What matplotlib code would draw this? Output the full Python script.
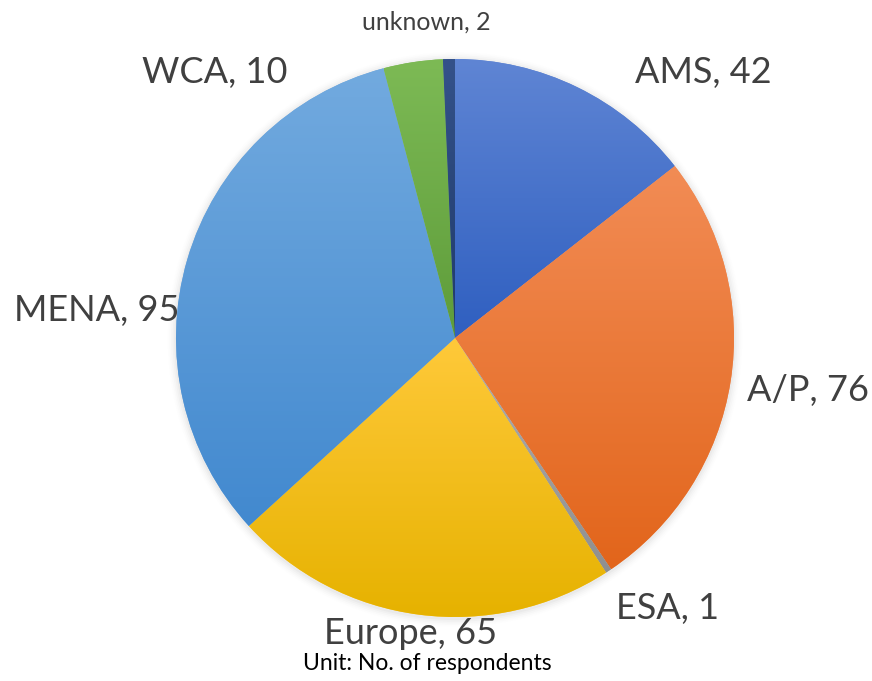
"""Respondents by region pie chart."""

import matplotlib.pyplot as plt
import numpy as np
from matplotlib.colors import LinearSegmentedColormap

plt.rcParams["font.family"] = ["Lato", "DejaVu Sans"]

regions = ["AMS", "A/P", "ESA", "Europe", "MENA", "WCA", "unknown"]
counts = [42, 76, 1, 65, 95, 10, 2]
# (top colour, bottom colour) for the vertical gradient of each wedge
top_colors = ["#5f85d4", "#f28c55", "#b0b0b0", "#ffc93a", "#72aadf", "#7dba55", "#34528a"]
bottom_colors = ["#2f5fc0", "#e2651b", "#8f8f8f", "#e6b200", "#4289cf", "#5e9c3a", "#1f3a6a"]

W, H = 872, 681
cx, cy, r = 455, 338, 279

fig = plt.figure(figsize=(W / 100, H / 100), dpi=100)
ax = fig.add_axes([(cx - r) / W, (H - cy - r) / H, 2 * r / W, 2 * r / H])
ax.set_aspect("equal")
ax.axis("off")

# soft shadow behind the pie
for i, a in enumerate(np.linspace(0.05, 0.01, 5)):
    ax.add_patch(plt.Circle((0.0, -0.005), 1.0 + 0.006 * (i + 1), color="#808080", alpha=a,
                            lw=0, zorder=0, clip_on=False))

wedges, _ = ax.pie(counts, startangle=90, counterclock=False, radius=1.0,
                   colors=top_colors, wedgeprops={"linewidth": 0})

grad = np.linspace(0, 1, 256).reshape(-1, 1)
for w, c0, c1 in zip(wedges, top_colors, bottom_colors):
    cmap = LinearSegmentedColormap.from_list("g", [c0, c1])
    bb = w.get_path().get_extents(w.get_transform() - ax.transData)
    img = ax.imshow(grad, cmap=cmap, aspect="auto", extent=[bb.x0, bb.x1, bb.y0, bb.y1],
                    origin="upper", zorder=2, interpolation="bilinear")
    img.set_clip_path(w)
ax.set_xlim(-1.0, 1.0)
ax.set_ylim(-1.0, 1.0)

label_pos = {
    "AMS": (703, 73),
    "A/P": (808, 390),
    "ESA": (668, 608),
    "Europe": (411, 633),
    "MENA": (97, 310),
    "WCA": (215, 72),
    "unknown": (426, 22),
}
for name, n in zip(regions, counts):
    px, py = label_pos[name]
    size = 18 if name == "unknown" else 26
    fig.text(px / W, 1 - py / H, f"{name}, {n}", fontsize=size, color="#404040",
             ha="center", va="center")

fig.text(427 / W, 1 - 663 / H, "Unit: No. of respondents", fontsize=16.5, color="black",
         ha="center", va="center")

fig.savefig("out.png", dpi=100)
